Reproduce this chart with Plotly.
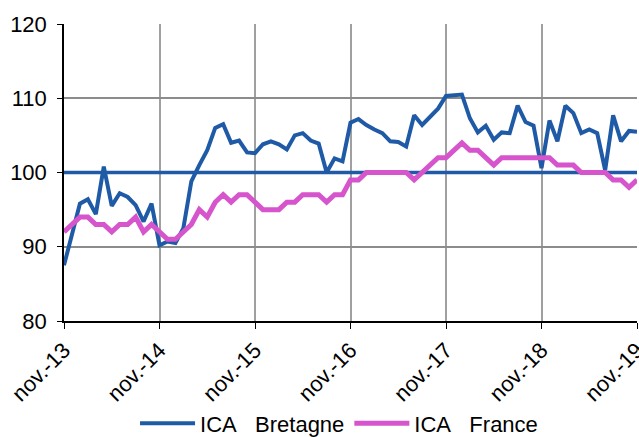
import plotly.graph_objects as go

months = list(range(73))
tick_positions = [0, 12, 24, 36, 48, 60, 72]
tick_labels = ["nov.-13", "nov.-14", "nov.-15", "nov.-16", "nov.-17", "nov.-18", "nov.-19"]

ica_bretagne = [
    87.5, 91.7, 95.8, 96.4, 94.4, 100.8, 95.5, 97.2, 96.7, 95.6, 93.4, 95.8,
    90.2, 90.7, 90.5, 92.5, 98.8, 101.0, 103.0, 106.0, 106.5, 104.0, 104.3, 102.7,
    102.6, 103.8, 104.2, 103.8, 103.1, 105.0, 105.3, 104.3, 103.9, 100.0, 101.9, 101.5,
    106.7, 107.2, 106.4, 105.8, 105.3, 104.2, 104.1, 103.5, 107.7, 106.4, 107.6, 108.6,
    110.3, 110.4, 110.5, 107.3, 105.4, 106.3, 104.4, 105.4, 105.3, 109.0, 106.8, 106.3,
    100.6, 107.0, 104.2, 109.0, 108.0, 105.3, 105.8, 105.3, 100.3, 107.7, 104.2, 105.6,
    105.5,
]
ica_france = [
    92, 93, 94, 94, 93, 93, 92, 93, 93, 94, 92, 93,
    92, 91, 91, 92, 93, 95, 94, 96, 97, 96, 97, 97,
    96, 95, 95, 95, 96, 96, 97, 97, 97, 96, 97, 97,
    99, 99, 100, 100, 100, 100, 100, 100, 99, 100, 101, 102,
    102, 103, 104, 103, 103, 102, 101, 102, 102, 102, 102, 102,
    102, 102, 101, 101, 101, 100, 100, 100, 100, 99, 99, 98,
    99,
]
reference_level = 100
y_ticks = [80, 90, 100, 110, 120]

BLUE = "#1F5AA6"
PINK = "#D654CC"
FONT = "Liberation Sans, Arial, sans-serif"

fig = go.Figure()
fig.add_trace(go.Scatter(x=[months[0], months[-1]], y=[reference_level, reference_level],
                         mode="lines", showlegend=False, hoverinfo="skip",
                         line=dict(color=BLUE, width=3.5)))
fig.add_trace(go.Scatter(x=months, y=ica_bretagne, mode="lines",
                         name="ICA\u00a0\u00a0\u00a0Bretagne",
                         line=dict(color=BLUE, width=4), cliponaxis=False))
fig.add_trace(go.Scatter(x=months, y=ica_france, mode="lines",
                         name="ICA\u00a0\u00a0\u00a0France",
                         line=dict(color=PINK, width=5), cliponaxis=False))

fig.update_layout(
    width=639, height=437,
    margin=dict(l=64, r=2, t=24, b=116, autoexpand=False),
    paper_bgcolor="white", plot_bgcolor="white",
    font=dict(family=FONT, size=22, color="black"),
    showlegend=True,
    legend=dict(orientation="h", x=0.48, xanchor="center", y=-0.345, yanchor="middle",
                font=dict(size=22), itemwidth=55, traceorder="normal"),
    xaxis=dict(range=[0, 72], tickvals=tick_positions, ticktext=tick_labels,
               tickangle=-45, showgrid=True, gridcolor="#A0A0A0", gridwidth=1.5,
               showline=True, linecolor="black", linewidth=1.5, automargin=False,
               ticks="outside", ticklen=6, tickcolor="black", zeroline=False,
               ticklabelstandoff=0, ticklabeloverflow="allow"),
    yaxis=dict(range=[80, 120], tickvals=y_ticks, showgrid=True, gridcolor="#8C8C8C",
               gridwidth=1.5, showline=True, linecolor="black", linewidth=1.5,
               ticks="outside", ticklen=5, tickcolor="black", zeroline=False,
               ticklabelstandoff=6, automargin=False, ticklabeloverflow="allow"),
)

fig.write_html(
    "out.html",
    config={"displayModeBar": False},
    post_script="document.body.style.margin='0';document.body.style.overflow='hidden';",
)
